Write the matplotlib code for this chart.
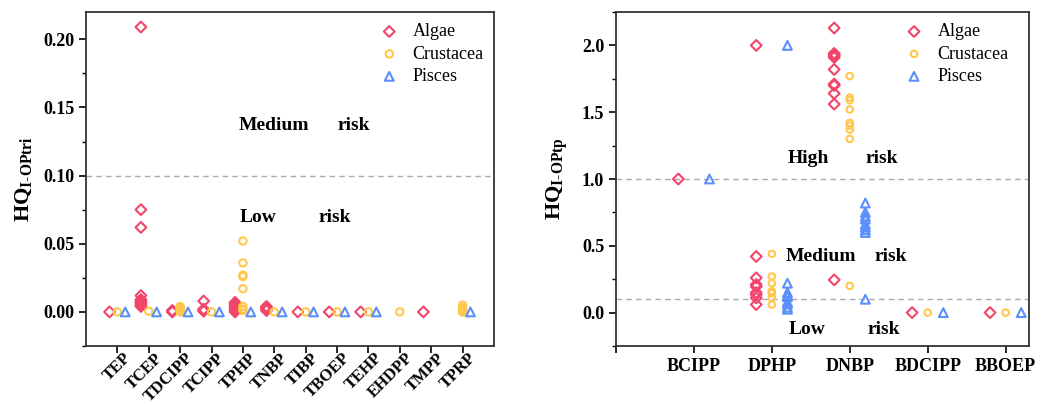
import matplotlib
matplotlib.use('Agg')
import matplotlib.pyplot as plt
import matplotlib.transforms as mtransforms
from matplotlib.ticker import MultipleLocator

plt.rcParams['font.family'] = ['Liberation Serif', 'DejaVu Serif']
plt.rcParams['mathtext.fontset'] = 'custom'
plt.rcParams['mathtext.rm'] = 'Liberation Serif'
plt.rcParams['mathtext.bf'] = 'Liberation Serif:bold'

# ---- left panel: HQ I-OPtri ----
tri_names = ['TEP', 'TCEP', 'TDCIPP', 'TCIPP', 'TPHP', 'TNBP', 'TIBP',
             'TBOEP', 'TEHP', 'EHDPP', 'TMPP', 'TPRP']
tri_algae = [[0.0],
             [0.209, 0.075, 0.062, 0.012, 0.009, 0.008, 0.007, 0.006, 0.005, 0.004],
             [0.0, 0.0005, 0.001],
             [0.008, 0.002, 0.001, 0.0005],
             [0.007, 0.006, 0.005, 0.004, 0.003, 0.002, 0.001, 0.0],
             [0.004, 0.003, 0.002, 0.001],
             [0.0], [0.0], [0.0], [], [0.0], []]
tri_crust = [[0.0], [0.0005],
             [0.004, 0.003, 0.002, 0.001, 0.0],
             [0.0],
             [0.052, 0.036, 0.027, 0.026, 0.017, 0.004, 0.002, 0.001],
             [0.0], [0.0], [0.0], [0.0], [0.0], [],
             [0.005, 0.003, 0.002, 0.001, 0.0]]
tri_pisces = [[0.0], [0.0], [0.0], [0.0], [0.0], [0.0], [0.0], [0.0], [0.0],
              [], [], [0.0]]

# ---- right panel: HQ I-OPtp ----
tp_names = ['BCIPP', 'DPHP', 'DNBP', 'BDCIPP', 'BBOEP']
tp_algae = [[1.0],
            [2.0, 0.42, 0.26, 0.21, 0.195, 0.15, 0.135, 0.11, 0.06],
            [2.13, 1.94, 1.93, 1.92, 1.91, 1.82, 1.71, 1.70, 1.64, 1.56, 0.245],
            [0.0], [0.0]]
tp_crust = [[],
            [0.44, 0.27, 0.22, 0.16, 0.145, 0.11, 0.06],
            [1.77, 1.61, 1.59, 1.52, 1.42, 1.40, 1.37, 1.30, 0.20],
            [0.0], [0.0]]
tp_pisces = [[1.0],
             [2.0, 0.22, 0.15, 0.13, 0.12, 0.08, 0.065, 0.04, 0.025],
             [0.82, 0.75, 0.72, 0.70, 0.66, 0.64, 0.62, 0.60, 0.10],
             [0.0], [0.0]]

red = '#F2456A'
yellow = '#FFC84A'
blue = '#5B8FF9'


def draw_series(ax, groups, offset, marker, color, size, label):
    xs, ys = [], []
    for i, vals in enumerate(groups):
        for v in vals:
            xs.append(i + 1 + offset)
            ys.append(v)
    ax.scatter(xs, ys, marker=marker, s=size, facecolors='none',
               edgecolors=color, linewidths=1.5, label=label, zorder=3)


def style_axes(ax, xpad=3.5):
    for sp in ax.spines.values():
        sp.set_linewidth(1.3)
        sp.set_color('#333333')
    ax.tick_params(axis='both', which='major', direction='out', length=5,
                   width=1.2, top=False, right=False, labelsize=13)
    ax.tick_params(axis='x', which='major', pad=xpad)
    ax.tick_params(axis='y', which='minor', direction='out', length=3,
                   width=1.0, right=False)
    ax.tick_params(axis='x', which='minor', bottom=False)
    for lab in ax.get_xticklabels() + ax.get_yticklabels():
        lab.set_fontweight('bold')


fig = plt.figure(figsize=(10.53, 4.05), dpi=100)
ax1 = fig.add_axes([86 / 1053, 59 / 405, 408 / 1053, 334 / 405])
ax2 = fig.add_axes([616 / 1053, 59 / 405, 413 / 1053, 334 / 405])

# left
draw_series(ax1, tri_algae, -0.25, 'D', red, 30, 'Algae')
draw_series(ax1, tri_crust, 0.0, 'o', yellow, 28, 'Crustacea')
draw_series(ax1, tri_pisces, 0.25, '^', blue, 40, 'Pisces')
ax1.axhline(0.1, color='#aaaaaa', ls=(0, (4, 3)), lw=1.0, zorder=1)
ax1.set_xlim(0, 13)
ax1.set_ylim(-0.025, 0.22)
ax1.set_xticks(range(1, len(tri_names) + 1))
ax1.yaxis.set_minor_locator(MultipleLocator(0.025))
ax1.set_yticks([0.0, 0.05, 0.1, 0.15, 0.2])
ax1.set_yticklabels(['0.00', '0.05', '0.10', '0.15', '0.20'])
ax1.set_ylabel(r'$\mathbf{HQ}_{\mathbf{I}\text{-}\mathbf{OPtri}}$', fontsize=16,
               labelpad=6)
ax1.text(4.87, 0.137, 'Medium', fontsize=14, fontweight='bold', va='center')
ax1.text(8.0, 0.137, 'risk', fontsize=14, fontweight='bold', va='center')
ax1.text(4.9, 0.069, 'Low', fontsize=14, fontweight='bold', va='center')
ax1.text(7.4, 0.069, 'risk', fontsize=14, fontweight='bold', va='center')
ax1.legend(loc='upper right', frameon=False, fontsize=13, handletextpad=0.6,
           handlelength=1.4, labelspacing=0.3, borderaxespad=0.5,
           bbox_to_anchor=(1.015, 1.015))
style_axes(ax1, xpad=2)
ax1.set_xticklabels(tri_names, rotation=45, ha='right', va='center',
                    rotation_mode='anchor', fontsize=12, fontweight='bold')
shift = mtransforms.ScaledTranslation(11 / 100, 0, fig.dpi_scale_trans)
for lab in ax1.get_xticklabels():
    lab.set_transform(lab.get_transform() + shift)

# right
draw_series(ax2, tp_algae, -0.2, 'D', red, 30, 'Algae')
draw_series(ax2, tp_crust, 0.0, 'o', yellow, 22, 'Crustacea')
draw_series(ax2, tp_pisces, 0.2, '^', blue, 40, 'Pisces')
ax2.axhline(1.0, color='#aaaaaa', ls=(0, (4, 3)), lw=1.0, zorder=1)
ax2.axhline(0.1, color='#aaaaaa', ls=(0, (4, 3)), lw=1.0, zorder=1)
ax2.set_xlim(0, 5.3)
ax2.set_ylim(-0.25, 2.25)
ax2.set_xticks(range(0, len(tp_names) + 1))
ax2.set_xticklabels([''] + tp_names)
ax2.yaxis.set_minor_locator(MultipleLocator(0.25))
ax2.set_yticks([0.0, 0.5, 1.0, 1.5, 2.0])
ax2.set_yticklabels(['0.0', '0.5', '1.0', '1.5', '2.0'])
ax2.set_ylabel(r'$\mathbf{HQ}_{\mathbf{I}\text{-}\mathbf{OPtp}}$', fontsize=16,
               labelpad=8)
ax2.text(2.2, 1.155, 'High', fontsize=14, fontweight='bold', va='center')
ax2.text(3.2, 1.155, 'risk', fontsize=14, fontweight='bold', va='center')
ax2.text(2.18, 0.42, 'Medium', fontsize=14, fontweight='bold', va='center')
ax2.text(3.32, 0.42, 'risk', fontsize=14, fontweight='bold', va='center')
ax2.text(2.22, -0.124, 'Low', fontsize=14, fontweight='bold', va='center')
ax2.text(3.23, -0.124, 'risk', fontsize=14, fontweight='bold', va='center')
ax2.legend(loc='upper right', frameon=False, fontsize=13, handletextpad=0.6,
           handlelength=1.4, labelspacing=0.3, borderaxespad=0.5,
           bbox_to_anchor=(0.99, 1.015))
style_axes(ax2)

fig.savefig('out.png', dpi=100)
